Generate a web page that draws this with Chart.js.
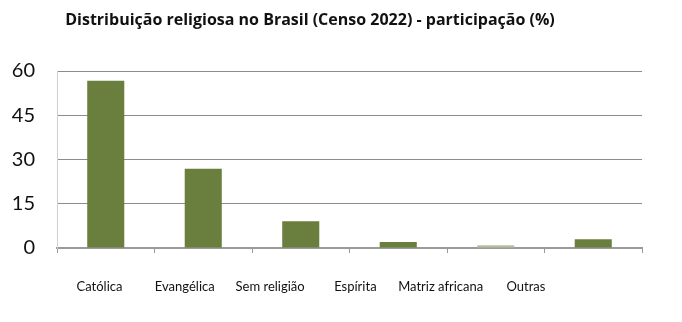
<!DOCTYPE html>
<html>
<head>
<meta charset="utf-8">
<script src="https://cdn.jsdelivr.net/npm/chart.js@4/dist/chart.umd.min.js"></script>
<style>
  html, body { margin: 0; padding: 0; background: #fff; }
  #wrap { width: 682px; height: 322px; position: relative; }
</style>
</head>
<body>
<div id="wrap"><canvas id="chart"></canvas></div>
<script>
// ---------- DATI ----------
const titolo = 'Distribuição religiosa no Brasil (Censo 2022) - participação (%)';
const categorie = ['Católica', 'Evangélica', 'Sem religião', 'Espírita', 'Matriz africana', 'Outras'];
const valori = [56.7, 26.9, 9.1, 2.0, 0.9, 3.0];
const yTicks = [0, 15, 30, 45, 60];

const verde = '#6a7e3d';
const verdeChiaro = '#b8bea0';

// titolo disegnato a mano (non centrato sul canvas, come nell'originale)
const titlePlugin = {
  id: 'titoloFisso',
  afterDraw(chart) {
    const ctx = chart.ctx;
    ctx.save();
    ctx.font = 'bold 16px "Open Sans"';
    ctx.fillStyle = '#111';
    ctx.textBaseline = 'middle';
    ctx.textAlign = 'center';
    ctx.fillText(titolo, 310, 20);
    ctx.restore();
  }
};

new Chart(document.getElementById('chart'), {
  type: 'bar',
  data: {
    labels: categorie,
    datasets: [{
      data: valori,
      backgroundColor: valori.map((v, i) => i === 4 ? verdeChiaro : verde),
      borderWidth: 0,
      barPercentage: 0.38,
      categoryPercentage: 1,
    }]
  },
  options: {
    responsive: true,
    maintainAspectRatio: false,
    animation: false,
    layout: { padding: { top: 71, right: 40, left: 0, bottom: 0 } },
    plugins: {
      legend: { display: false },
      tooltip: { enabled: false },
      title: { display: false }
    },
    scales: {
      x: {
        weight: 0,
        afterFit: s => { s.height = 6; },
        grid: { drawOnChartArea: false, drawTicks: true, tickLength: 5, color: '#9a9a9a', offset: true },
        border: { color: '#9a9a9a', width: 2 },
        ticks: { display: false }
      },
      // le etichette nell'originale sono più strette delle barre: asse a parte
      xLab: {
        type: 'linear',
        position: 'bottom',
        weight: 1,
        offset: false,
        min: -0.498, max: 6.36,
        afterFit: s => { s.height = 68; },
        afterBuildTicks: s => { s.ticks = categorie.map((c, i) => ({ value: i })); },
        grid: { display: false },
        border: { display: false },
        ticks: {
          color: '#111', font: { family: 'Lato', size: 13 }, padding: 17,
          callback: v => categorie[v]
        }
      },
      y: {
        min: 0, max: 60,
        afterFit: s => { s.width = 57; },
        afterBuildTicks: s => { s.ticks = yTicks.map(v => ({ value: v })); },
        grid: { color: '#8c8c8c', drawTicks: false },
        border: { color: '#cfcfcf', width: 1 },
        ticks: { color: '#111', font: { family: 'Lato', size: 20 }, padding: 22 }
      }
    }
  },
  plugins: [titlePlugin]
});
</script>
</body>
</html>
